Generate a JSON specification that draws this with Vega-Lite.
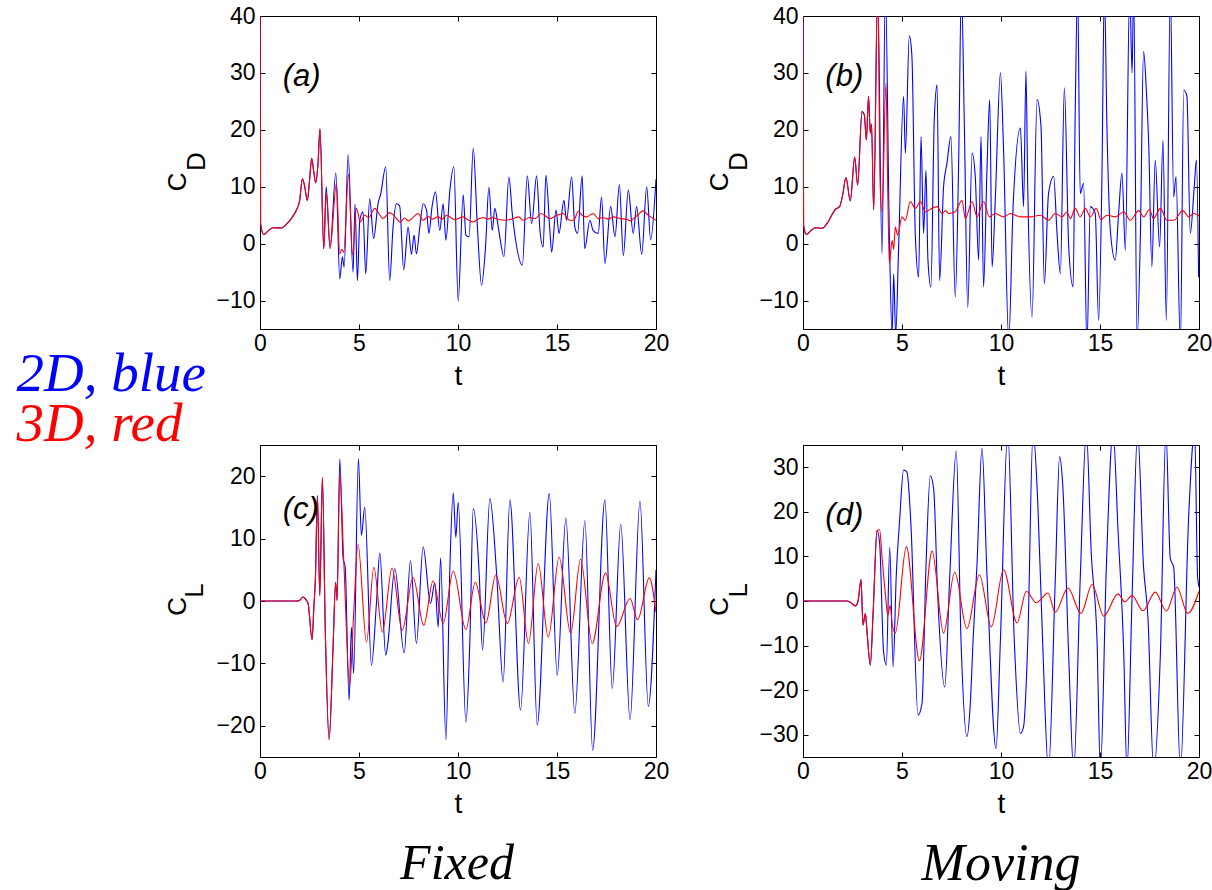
{
"$schema": "https://vega.github.io/schema/vega-lite/v6.json",
"background": "white",
"autosize": {"type": "pad"},
"padding": {"left": 15, "top": 4, "right": 5, "bottom": 5},
"config": {
  "view": {"stroke": "black", "strokeWidth": 1},
  "axis": {"domain": false, "grid": false, "tickColor": "black", "tickSize": -5, "tickWidth": 1, "labelPadding": 10, "labelFont": "Liberation Sans", "labelFontSize": 23, "labelColor": "black", "labelFlush": false, "labelOverlap": false, "titleFont": "Liberation Sans", "titleFontSize": 28, "titleFontWeight": "normal", "titleColor": "black", "titlePadding": 7},
  "axisX": {"labelPadding": 8},
  "axisY": {"labelPadding": 10}
},
"datasets": {
"a": [
{"s":"2D","t":0,"v":45},{"s":"2D","t":0.03,"v":3.5},{"s":"2D","t":0.19,"v":1.6},{"s":"2D","t":0.4,"v":2.2},{"s":"2D","t":0.66,"v":2.8},{"s":"2D","t":1.08,"v":2.75},{"s":"2D","t":1.3,"v":3.3},{"s":"2D","t":1.58,"v":4.4},{"s":"2D","t":1.84,"v":5.9},{"s":"2D","t":2.0,"v":7.5},{"s":"2D","t":2.14,"v":11.4},{"s":"2D","t":2.25,"v":10.2},{"s":"2D","t":2.39,"v":7.6},{"s":"2D","t":2.5,"v":11},{"s":"2D","t":2.61,"v":15},{"s":"2D","t":2.72,"v":12.5},{"s":"2D","t":2.81,"v":10.7},{"s":"2D","t":2.93,"v":14.1},{"s":"2D","t":3.03,"v":20.2},{"s":"2D","t":3.22,"v":-0.9},
{"s":"2D","t":3.34,"v":10},{"s":"2D","t":3.54,"v":-0.6},{"s":"2D","t":3.83,"v":12.4},{"s":"2D","t":4.03,"v":-6.2},{"s":"2D","t":4.16,"v":-2.3},{"s":"2D","t":4.25,"v":-4.1},{"s":"2D","t":4.45,"v":15.7},{"s":"2D","t":4.7,"v":-5},{"s":"2D","t":4.8,"v":6.9},{"s":"2D","t":4.92,"v":-6.5},{"s":"2D","t":5.04,"v":4.1},{"s":"2D","t":5.2,"v":5.6},{"s":"2D","t":5.34,"v":-5.3},{"s":"2D","t":5.54,"v":7.9},{"s":"2D","t":5.74,"v":0.9},{"s":"2D","t":5.96,"v":7.0},{"s":"2D","t":6.1,"v":8.8},{"s":"2D","t":6.35,"v":13.5},{"s":"2D","t":6.55,"v":-6.5},{"s":"2D","t":6.72,"v":2.9},{"s":"2D","t":6.89,"v":7.0},{"s":"2D","t":7.05,"v":6.7},{"s":"2D","t":7.26,"v":-4.6},{"s":"2D","t":7.48,"v":2.9},{"s":"2D","t":7.65,"v":-1.9},{"s":"2D","t":7.78,"v":1.5},{"s":"2D","t":7.9,"v":-1.8},{"s":"2D","t":8.07,"v":2.9},{"s":"2D","t":8.24,"v":7.0},{"s":"2D","t":8.41,"v":5.9},{"s":"2D","t":8.53,"v":1.8},{"s":"2D","t":8.69,"v":6.5},{"s":"2D","t":8.86,"v":9.1},{"s":"2D","t":9.08,"v":2.3},{"s":"2D","t":9.25,"v":7.0},{"s":"2D","t":9.39,"v":0.6},{"s":"2D","t":9.59,"v":9.4},{"s":"2D","t":9.79,"v":13.5},{"s":"2D","t":10.01,"v":-10.1},{"s":"2D","t":10.26,"v":8.6},{"s":"2D","t":10.4,"v":1.5},{"s":"2D","t":10.56,"v":1.2},{"s":"2D","t":10.77,"v":16.8},{"s":"2D","t":10.97,"v":3.6},{"s":"2D","t":11.19,"v":-7.3},{"s":"2D","t":11.39,"v":-0.6},{"s":"2D","t":11.56,"v":9.9},{"s":"2D","t":11.73,"v":2.3},{"s":"2D","t":11.86,"v":6.2},{"s":"2D","t":12.06,"v":2.3},{"s":"2D","t":12.32,"v":-2.3},{"s":"2D","t":12.57,"v":11.7},{"s":"2D","t":12.74,"v":5.3},{"s":"2D","t":12.91,"v":0.6},{"s":"2D","t":13.25,"v":-3.8},{"s":"2D","t":13.5,"v":11.9},{"s":"2D","t":13.72,"v":3.5},{"s":"2D","t":13.97,"v":11.9},{"s":"2D","t":14.14,"v":2.3},{"s":"2D","t":14.3,"v":-0.6},{"s":"2D","t":14.44,"v":12},{"s":"2D","t":14.64,"v":2.3},{"s":"2D","t":14.73,"v":-1.5},{"s":"2D","t":14.95,"v":5.9},{"s":"2D","t":15.1,"v":1.8},{"s":"2D","t":15.35,"v":7.6},{"s":"2D","t":15.48,"v":4.1},{"s":"2D","t":15.74,"v":11.7},{"s":"2D","t":15.9,"v":2.9},{"s":"2D","t":16.04,"v":1.8},{"s":"2D","t":16.27,"v":11.9},{"s":"2D","t":16.4,"v":-0.9},{"s":"2D","t":16.66,"v":4.1},{"s":"2D","t":16.83,"v":2.3},{"s":"2D","t":17.08,"v":1.8},{"s":"2D","t":17.25,"v":8.2},{"s":"2D","t":17.42,"v":-3.5},{"s":"2D","t":17.71,"v":6.5},{"s":"2D","t":17.93,"v":1.2},{"s":"2D","t":18.15,"v":10.4},{"s":"2D","t":18.35,"v":-2.1},{"s":"2D","t":18.6,"v":9.4},{"s":"2D","t":18.85,"v":1.8},{"s":"2D","t":19.02,"v":6.5},{"s":"2D","t":19.28,"v":-1.9},{"s":"2D","t":19.53,"v":10},{"s":"2D","t":19.73,"v":0.7},{"s":"2D","t":20,"v":11.3},
{"s":"3D","t":0,"v":45},{"s":"3D","t":0.03,"v":3.5},{"s":"3D","t":0.19,"v":1.6},{"s":"3D","t":0.4,"v":2.2},{"s":"3D","t":0.66,"v":2.8},{"s":"3D","t":1.08,"v":2.75},{"s":"3D","t":1.3,"v":3.3},{"s":"3D","t":1.58,"v":4.4},{"s":"3D","t":1.84,"v":5.9},{"s":"3D","t":2.0,"v":7.5},{"s":"3D","t":2.14,"v":11.4},{"s":"3D","t":2.25,"v":10.2},{"s":"3D","t":2.39,"v":7.6},{"s":"3D","t":2.5,"v":11},{"s":"3D","t":2.61,"v":15},{"s":"3D","t":2.72,"v":12.5},{"s":"3D","t":2.81,"v":10.7},{"s":"3D","t":2.93,"v":14.1},{"s":"3D","t":3.03,"v":20.2},{"s":"3D","t":3.22,"v":-0.9},
{"s":"3D","t":3.35,"v":8.8},{"s":"3D","t":3.54,"v":-0.9},{"s":"3D","t":3.86,"v":10.6},{"s":"3D","t":4.03,"v":-1.8},{"s":"3D","t":4.13,"v":-1.0},{"s":"3D","t":4.23,"v":-1.5},{"s":"3D","t":4.47,"v":12.2},{"s":"3D","t":4.67,"v":-2},{"s":"3D","t":4.87,"v":6.2},{"s":"3D","t":5.07,"v":3.8},{"s":"3D","t":5.29,"v":5.0},{"s":"3D","t":5.5,"v":4.6},{"s":"3D","t":5.8,"v":6.2},{"s":"3D","t":6.0,"v":5.3},{"s":"3D","t":6.2,"v":4.4},{"s":"3D","t":6.55,"v":5.45},{"s":"3D","t":6.8,"v":4.8},{"s":"3D","t":7.1,"v":3.8},{"s":"3D","t":7.3,"v":4.5},{"s":"3D","t":7.5,"v":4.0},{"s":"3D","t":7.75,"v":4.7},{"s":"3D","t":7.99,"v":5.3},{"s":"3D","t":8.24,"v":4.1},{"s":"3D","t":8.5,"v":4.8},{"s":"3D","t":8.7,"v":4.3},{"s":"3D","t":9.0,"v":4.7},{"s":"3D","t":9.2,"v":4.3},{"s":"3D","t":9.42,"v":5.0},{"s":"3D","t":9.84,"v":4.2},{"s":"3D","t":10.26,"v":4.7},{"s":"3D","t":10.5,"v":4.2},{"s":"3D","t":10.77,"v":3.8},{"s":"3D","t":11.0,"v":4.3},{"s":"3D","t":11.27,"v":4.6},{"s":"3D","t":11.5,"v":4.3},{"s":"3D","t":11.75,"v":4.6},{"s":"3D","t":12.0,"v":4.3},{"s":"3D","t":12.37,"v":4.1},{"s":"3D","t":12.79,"v":4.4},{"s":"3D","t":13.05,"v":4.7},{"s":"3D","t":13.3,"v":4.1},{"s":"3D","t":13.6,"v":4.6},{"s":"3D","t":13.9,"v":4.4},{"s":"3D","t":14.2,"v":5.3},{"s":"3D","t":14.64,"v":4.4},{"s":"3D","t":14.95,"v":4.9},{"s":"3D","t":15.3,"v":5.3},{"s":"3D","t":15.65,"v":4.1},{"s":"3D","t":15.85,"v":4.1},{"s":"3D","t":16.07,"v":5.7},{"s":"3D","t":16.3,"v":4.9},{"s":"3D","t":16.5,"v":4.7},{"s":"3D","t":16.83,"v":5.3},{"s":"3D","t":17.08,"v":4.4},{"s":"3D","t":17.3,"v":4.6},{"s":"3D","t":17.6,"v":4.3},{"s":"3D","t":17.85,"v":4.7},{"s":"3D","t":18.2,"v":4.4},{"s":"3D","t":18.5,"v":4.3},{"s":"3D","t":18.69,"v":4.0},{"s":"3D","t":19.0,"v":4.8},{"s":"3D","t":19.36,"v":5.75},{"s":"3D","t":19.6,"v":5.0},{"s":"3D","t":20,"v":4.1}
],
"b": [
{"s":"2D","t":0,"v":45},{"s":"2D","t":0.03,"v":3.2},{"s":"2D","t":0.17,"v":1.6},{"s":"2D","t":0.4,"v":2.3},{"s":"2D","t":0.62,"v":2.8},{"s":"2D","t":0.96,"v":2.7},{"s":"2D","t":1.21,"v":3.5},{"s":"2D","t":1.63,"v":6.0},{"s":"2D","t":1.85,"v":6.5},{"s":"2D","t":2.0,"v":8.5},{"s":"2D","t":2.17,"v":11.6},{"s":"2D","t":2.39,"v":7.5},{"s":"2D","t":2.61,"v":15.2},{"s":"2D","t":2.76,"v":10.3},{"s":"2D","t":2.98,"v":23.2},{"s":"2D","t":3.1,"v":22.6},{"s":"2D","t":3.2,"v":18.2},{"s":"2D","t":3.31,"v":25.9},{"s":"2D","t":3.4,"v":19.4},{"s":"2D","t":3.46,"v":21},{"s":"2D","t":3.57,"v":5.9},{"s":"2D","t":3.77,"v":45},
{"s":"2D","t":3.99,"v":-1.8},{"s":"2D","t":4.16,"v":45},{"s":"2D","t":4.36,"v":1.8},{"s":"2D","t":4.5,"v":-16},{"s":"2D","t":4.58,"v":-5.3},{"s":"2D","t":4.68,"v":-16},{"s":"2D","t":4.83,"v":-0.6},{"s":"2D","t":5.08,"v":25.9},{"s":"2D","t":5.17,"v":15.9},{"s":"2D","t":5.37,"v":36.5},{"s":"2D","t":5.5,"v":33},{"s":"2D","t":5.67,"v":1.8},{"s":"2D","t":5.84,"v":-5.9},{"s":"2D","t":5.96,"v":18.8},{"s":"2D","t":6.09,"v":1.8},{"s":"2D","t":6.21,"v":12.9},{"s":"2D","t":6.31,"v":-2.9},{"s":"2D","t":6.46,"v":-7.6},{"s":"2D","t":6.63,"v":21.8},{"s":"2D","t":6.77,"v":27.9},{"s":"2D","t":6.9,"v":-6.5},{"s":"2D","t":7.1,"v":10},{"s":"2D","t":7.27,"v":14.1},{"s":"2D","t":7.47,"v":18.8},{"s":"2D","t":7.69,"v":-9.4},{"s":"2D","t":7.86,"v":14.1},{"s":"2D","t":8.0,"v":45},{"s":"2D","t":8.15,"v":20.6},{"s":"2D","t":8.32,"v":-11.2},{"s":"2D","t":8.54,"v":15.9},{"s":"2D","t":8.7,"v":11.8},{"s":"2D","t":8.87,"v":-2.9},{"s":"2D","t":8.99,"v":18.8},{"s":"2D","t":9.12,"v":-7.6},{"s":"2D","t":9.29,"v":12.9},{"s":"2D","t":9.43,"v":25.3},{"s":"2D","t":9.55,"v":-4.1},{"s":"2D","t":9.71,"v":7.6},{"s":"2D","t":9.97,"v":30},{"s":"2D","t":10.13,"v":16.5},{"s":"2D","t":10.39,"v":-17},{"s":"2D","t":10.61,"v":6.5},{"s":"2D","t":10.98,"v":20.3},{"s":"2D","t":11.14,"v":6.5},{"s":"2D","t":11.26,"v":30.3},{"s":"2D","t":11.35,"v":10},{"s":"2D","t":11.57,"v":-12.9},{"s":"2D","t":11.82,"v":25.3},{"s":"2D","t":12.02,"v":20.6},{"s":"2D","t":12.19,"v":-7.1},{"s":"2D","t":12.4,"v":8.8},{"s":"2D","t":12.66,"v":11.8},{"s":"2D","t":12.83,"v":1.8},{"s":"2D","t":13.0,"v":-5.3},{"s":"2D","t":13.2,"v":27.4},{"s":"2D","t":13.42,"v":-0.6},{"s":"2D","t":13.64,"v":-7.6},{"s":"2D","t":13.75,"v":23.5},{"s":"2D","t":13.87,"v":45},{"s":"2D","t":14.0,"v":8.8},{"s":"2D","t":14.17,"v":10.6},{"s":"2D","t":14.34,"v":-18},{"s":"2D","t":14.51,"v":6.5},{"s":"2D","t":14.76,"v":5.3},{"s":"2D","t":14.93,"v":-13.5},{"s":"2D","t":15.1,"v":12.4},{"s":"2D","t":15.22,"v":45},{"s":"2D","t":15.35,"v":20.6},{"s":"2D","t":15.52,"v":2.4},{"s":"2D","t":15.77,"v":-2.9},{"s":"2D","t":15.94,"v":5.3},{"s":"2D","t":16.11,"v":12.4},{"s":"2D","t":16.28,"v":-1.2},{"s":"2D","t":16.5,"v":45},{"s":"2D","t":16.62,"v":30},{"s":"2D","t":16.7,"v":45},{"s":"2D","t":16.87,"v":-17},{"s":"2D","t":17.04,"v":1.8},{"s":"2D","t":17.2,"v":33.8},{"s":"2D","t":17.34,"v":27},{"s":"2D","t":17.46,"v":17.6},{"s":"2D","t":17.62,"v":-4.1},{"s":"2D","t":17.79,"v":14.7},{"s":"2D","t":18.01,"v":-0.6},{"s":"2D","t":18.18,"v":18.2},{"s":"2D","t":18.35,"v":-13.5},{"s":"2D","t":18.55,"v":45},{"s":"2D","t":18.72,"v":8.2},{"s":"2D","t":18.84,"v":11.8},{"s":"2D","t":19.06,"v":-18},{"s":"2D","t":19.23,"v":27},{"s":"2D","t":19.39,"v":25.9},{"s":"2D","t":19.56,"v":1.8},{"s":"2D","t":19.76,"v":10},{"s":"2D","t":19.87,"v":14.7},{"s":"2D","t":19.98,"v":-5.9},
{"s":"3D","t":0,"v":45},{"s":"3D","t":0.03,"v":3.2},{"s":"3D","t":0.17,"v":1.6},{"s":"3D","t":0.4,"v":2.3},{"s":"3D","t":0.62,"v":2.8},{"s":"3D","t":0.96,"v":2.7},{"s":"3D","t":1.21,"v":3.5},{"s":"3D","t":1.63,"v":6.0},{"s":"3D","t":1.85,"v":6.5},{"s":"3D","t":2.0,"v":8.5},{"s":"3D","t":2.17,"v":11.6},{"s":"3D","t":2.39,"v":7.5},{"s":"3D","t":2.61,"v":15.2},{"s":"3D","t":2.76,"v":10.3},{"s":"3D","t":2.98,"v":23.2},{"s":"3D","t":3.1,"v":22.6},{"s":"3D","t":3.2,"v":18.2},{"s":"3D","t":3.31,"v":25.9},{"s":"3D","t":3.4,"v":19.4},{"s":"3D","t":3.46,"v":21},{"s":"3D","t":3.57,"v":5.9},{"s":"3D","t":3.77,"v":45},
{"s":"3D","t":3.9,"v":10},{"s":"3D","t":3.99,"v":5.6},{"s":"3D","t":4.19,"v":28.2},{"s":"3D","t":4.29,"v":7.6},{"s":"3D","t":4.36,"v":-3.5},{"s":"3D","t":4.5,"v":0.6},{"s":"3D","t":4.58,"v":-1},{"s":"3D","t":4.66,"v":2.9},{"s":"3D","t":4.78,"v":1.5},{"s":"3D","t":5.0,"v":4.7},{"s":"3D","t":5.17,"v":4.1},{"s":"3D","t":5.42,"v":7.4},{"s":"3D","t":5.67,"v":6.2},{"s":"3D","t":5.93,"v":7.4},{"s":"3D","t":6.18,"v":5.6},{"s":"3D","t":6.52,"v":6.2},{"s":"3D","t":6.77,"v":6.5},{"s":"3D","t":7.02,"v":5.3},{"s":"3D","t":7.2,"v":5.8},{"s":"3D","t":7.36,"v":5.3},{"s":"3D","t":7.69,"v":5.6},{"s":"3D","t":8.03,"v":7.6},{"s":"3D","t":8.2,"v":4.4},{"s":"3D","t":8.54,"v":7.4},{"s":"3D","t":8.79,"v":4.7},{"s":"3D","t":9.12,"v":7.4},{"s":"3D","t":9.41,"v":4.7},{"s":"3D","t":9.71,"v":5.3},{"s":"3D","t":10.13,"v":4.7},{"s":"3D","t":10.47,"v":5.3},{"s":"3D","t":10.98,"v":4.7},{"s":"3D","t":11.48,"v":4.7},{"s":"3D","t":11.99,"v":5.0},{"s":"3D","t":12.4,"v":4.1},{"s":"3D","t":12.74,"v":5.3},{"s":"3D","t":13.08,"v":4.7},{"s":"3D","t":13.33,"v":5.6},{"s":"3D","t":13.5,"v":4.4},{"s":"3D","t":13.75,"v":6.2},{"s":"3D","t":14.0,"v":4.7},{"s":"3D","t":14.26,"v":6.2},{"s":"3D","t":14.51,"v":4.7},{"s":"3D","t":14.81,"v":6.2},{"s":"3D","t":15.05,"v":4.2},{"s":"3D","t":15.35,"v":5.0},{"s":"3D","t":15.77,"v":4.7},{"s":"3D","t":16.2,"v":5.6},{"s":"3D","t":16.53,"v":4.1},{"s":"3D","t":16.95,"v":5.8},{"s":"3D","t":17.2,"v":4.7},{"s":"3D","t":17.5,"v":6.0},{"s":"3D","t":17.7,"v":4.4},{"s":"3D","t":18.05,"v":6.2},{"s":"3D","t":18.38,"v":4.1},{"s":"3D","t":18.72,"v":4.1},{"s":"3D","t":19.19,"v":5.8},{"s":"3D","t":19.48,"v":4.7},{"s":"3D","t":19.73,"v":5.3},{"s":"3D","t":20,"v":4.9}
],
"c": [
{"s":"2D","t":0,"v":0},{"s":"2D","t":1.84,"v":0},{"s":"2D","t":2.0,"v":0.1},{"s":"2D","t":2.17,"v":0.64},{"s":"2D","t":2.3,"v":0.3},{"s":"2D","t":2.43,"v":-0.4},{"s":"2D","t":2.63,"v":-6.2},{"s":"2D","t":2.72,"v":-1},{"s":"2D","t":2.8,"v":3.8},{"s":"2D","t":2.9,"v":16.9},{"s":"2D","t":3.02,"v":0.9},{"s":"2D","t":3.15,"v":19.8},{"s":"2D","t":3.3,"v":-5},{"s":"2D","t":3.49,"v":-22.2},{"s":"2D","t":3.69,"v":-7.4},{"s":"2D","t":3.82,"v":3.0},{"s":"2D","t":3.89,"v":0.1},
{"s":"2D","t":4.03,"v":22.8},{"s":"2D","t":4.2,"v":6.8},{"s":"2D","t":4.3,"v":5.5},{"s":"2D","t":4.5,"v":-15.9},{"s":"2D","t":4.62,"v":-4.2},{"s":"2D","t":4.73,"v":-11.6},{"s":"2D","t":4.97,"v":22.8},{"s":"2D","t":5.12,"v":10.5},{"s":"2D","t":5.29,"v":15.0},{"s":"2D","t":5.63,"v":-10.3},{"s":"2D","t":5.88,"v":-0.4},{"s":"2D","t":6.05,"v":7.7},{"s":"2D","t":6.35,"v":-8.7},{"s":"2D","t":6.45,"v":-7},{"s":"2D","t":6.81,"v":5.2},{"s":"2D","t":7.28,"v":-8.3},{"s":"2D","t":7.6,"v":6.5},{"s":"2D","t":7.9,"v":-6.8},{"s":"2D","t":8.24,"v":8.7},{"s":"2D","t":8.61,"v":-0.4},{"s":"2D","t":8.83,"v":2.9},{"s":"2D","t":9.0,"v":-4.2},{"s":"2D","t":9.12,"v":6.9},{"s":"2D","t":9.39,"v":-22.2},{"s":"2D","t":9.59,"v":5.4},{"s":"2D","t":9.76,"v":17.3},{"s":"2D","t":9.89,"v":10.2},{"s":"2D","t":10.01,"v":15.8},{"s":"2D","t":10.4,"v":-19.4},{"s":"2D","t":10.6,"v":-6.3},{"s":"2D","t":10.77,"v":14.8},{"s":"2D","t":11.07,"v":4.4},{"s":"2D","t":11.24,"v":-7.9},{"s":"2D","t":11.61,"v":16.4},{"s":"2D","t":11.95,"v":4.4},{"s":"2D","t":12.28,"v":-13.0},{"s":"2D","t":12.62,"v":16.2},{"s":"2D","t":13.16,"v":-17.5},{"s":"2D","t":13.63,"v":14.2},{"s":"2D","t":14.0,"v":-19.9},{"s":"2D","t":14.61,"v":17.2},{"s":"2D","t":15.01,"v":-11.9},{"s":"2D","t":15.45,"v":13.3},{"s":"2D","t":15.9,"v":-18.0},{"s":"2D","t":16.41,"v":12.9},{"s":"2D","t":16.8,"v":-23.9},{"s":"2D","t":17.42,"v":16.2},{"s":"2D","t":17.79,"v":-14.0},{"s":"2D","t":18.22,"v":12.3},{"s":"2D","t":18.69,"v":-19.0},{"s":"2D","t":19.19,"v":16.0},{"s":"2D","t":19.61,"v":-16.9},{"s":"2D","t":20,"v":5.0},
{"s":"3D","t":0,"v":0},{"s":"3D","t":1.84,"v":0},{"s":"3D","t":2.0,"v":0.1},{"s":"3D","t":2.17,"v":0.64},{"s":"3D","t":2.3,"v":0.3},{"s":"3D","t":2.43,"v":-0.4},{"s":"3D","t":2.63,"v":-6.2},{"s":"3D","t":2.72,"v":-1},{"s":"3D","t":2.8,"v":3.8},{"s":"3D","t":2.9,"v":16.9},{"s":"3D","t":3.02,"v":0.9},{"s":"3D","t":3.15,"v":19.8},{"s":"3D","t":3.3,"v":-5},{"s":"3D","t":3.49,"v":-22.2},{"s":"3D","t":3.69,"v":-7.4},{"s":"3D","t":3.82,"v":3.0},{"s":"3D","t":3.89,"v":0.1},
{"s":"3D","t":4.03,"v":20.4},{"s":"3D","t":4.23,"v":6.5},{"s":"3D","t":4.53,"v":-13.5},{"s":"3D","t":4.73,"v":-2.0},{"s":"3D","t":4.95,"v":9.1},{"s":"3D","t":5.38,"v":-6.6},{"s":"3D","t":5.75,"v":5.4},{"s":"3D","t":6.18,"v":-5.0},{"s":"3D","t":6.67,"v":5.3},{"s":"3D","t":7.18,"v":-4.7},{"s":"3D","t":7.73,"v":3.8},{"s":"3D","t":8.27,"v":-3.9},{"s":"3D","t":8.74,"v":3.2},{"s":"3D","t":9.25,"v":-3.6},{"s":"3D","t":9.76,"v":4.8},{"s":"3D","t":10.4,"v":-4.6},{"s":"3D","t":10.87,"v":3.0},{"s":"3D","t":11.41,"v":-3.5},{"s":"3D","t":11.91,"v":4.2},{"s":"3D","t":12.49,"v":-3.6},{"s":"3D","t":13.09,"v":3.8},{"s":"3D","t":13.56,"v":-6.8},{"s":"3D","t":14.05,"v":6.0},{"s":"3D","t":14.56,"v":-5.8},{"s":"3D","t":15.11,"v":7.0},{"s":"3D","t":15.69,"v":-5.2},{"s":"3D","t":16.19,"v":6.7},{"s":"3D","t":16.78,"v":-6.8},{"s":"3D","t":17.45,"v":4.5},{"s":"3D","t":18.01,"v":-4.1},{"s":"3D","t":18.69,"v":0.4},{"s":"3D","t":19.07,"v":-3.0},{"s":"3D","t":19.66,"v":3.7},{"s":"3D","t":20,"v":-1.8}
],
"d": [
{"s":"2D","t":0,"v":0},{"s":"2D","t":2.22,"v":0},{"s":"2D","t":2.4,"v":-0.3},{"s":"2D","t":2.64,"v":-1.1},{"s":"2D","t":2.78,"v":0},{"s":"2D","t":2.93,"v":4.8},{"s":"2D","t":3.03,"v":-5.4},{"s":"2D","t":3.15,"v":-2.8},{"s":"2D","t":3.23,"v":-6.7},{"s":"2D","t":3.4,"v":-14.4},{"s":"2D","t":3.54,"v":-2.8},{"s":"2D","t":3.74,"v":15.8},
{"s":"2D","t":3.87,"v":13},{"s":"2D","t":4.07,"v":-11.4},{"s":"2D","t":4.21,"v":-14.4},{"s":"2D","t":4.38,"v":12.1},{"s":"2D","t":4.55,"v":-14.8},{"s":"2D","t":4.71,"v":5.7},{"s":"2D","t":4.88,"v":18.1},{"s":"2D","t":5.08,"v":29.4},{"s":"2D","t":5.25,"v":28.9},{"s":"2D","t":5.45,"v":17.3},{"s":"2D","t":5.81,"v":-25.6},{"s":"2D","t":6.01,"v":-23},{"s":"2D","t":6.21,"v":7.6},{"s":"2D","t":6.43,"v":28.1},{"s":"2D","t":6.6,"v":25.1},{"s":"2D","t":6.8,"v":1.6},{"s":"2D","t":7.16,"v":-19.3},{"s":"2D","t":7.41,"v":5.4},{"s":"2D","t":7.74,"v":33.7},{"s":"2D","t":7.98,"v":-8.8},{"s":"2D","t":8.28,"v":-30.4},{"s":"2D","t":8.45,"v":-23},{"s":"2D","t":8.59,"v":-8.8},{"s":"2D","t":8.79,"v":8.4},{"s":"2D","t":9.04,"v":34.3},{"s":"2D","t":9.29,"v":6.1},{"s":"2D","t":9.75,"v":-33.1},{"s":"2D","t":9.97,"v":-8.8},{"s":"2D","t":10.34,"v":38},{"s":"2D","t":10.67,"v":-8.8},{"s":"2D","t":10.98,"v":-29.7},{"s":"2D","t":11.14,"v":-28.2},{"s":"2D","t":11.35,"v":-9.6},{"s":"2D","t":11.62,"v":38},{"s":"2D","t":11.85,"v":22.9},{"s":"2D","t":12.1,"v":-8.8},{"s":"2D","t":12.4,"v":-38},{"s":"2D","t":12.74,"v":4.6},{"s":"2D","t":12.96,"v":32.4},{"s":"2D","t":13.13,"v":25.1},{"s":"2D","t":13.42,"v":-12.5},{"s":"2D","t":13.67,"v":-38},{"s":"2D","t":14.01,"v":6.1},{"s":"2D","t":14.31,"v":38},{"s":"2D","t":14.56,"v":10.6},{"s":"2D","t":14.85,"v":-8.8},{"s":"2D","t":15.02,"v":-38},{"s":"2D","t":15.32,"v":7.6},{"s":"2D","t":15.66,"v":38},{"s":"2D","t":15.91,"v":15.8},{"s":"2D","t":16.2,"v":-11.8},{"s":"2D","t":16.36,"v":-38},{"s":"2D","t":16.62,"v":0.9},{"s":"2D","t":16.9,"v":38},{"s":"2D","t":17.2,"v":7.6},{"s":"2D","t":17.42,"v":-3.6},{"s":"2D","t":17.71,"v":-38},{"s":"2D","t":18.05,"v":-11.8},{"s":"2D","t":18.33,"v":38},{"s":"2D","t":18.55,"v":9.5},{"s":"2D","t":18.72,"v":7.6},{"s":"2D","t":19.06,"v":-38},{"s":"2D","t":19.48,"v":19.2},{"s":"2D","t":19.78,"v":38},{"s":"2D","t":19.93,"v":5.4},{"s":"2D","t":20,"v":3.1},
{"s":"3D","t":0,"v":0},{"s":"3D","t":2.22,"v":0},{"s":"3D","t":2.4,"v":-0.3},{"s":"3D","t":2.64,"v":-1.1},{"s":"3D","t":2.78,"v":0},{"s":"3D","t":2.93,"v":4.8},{"s":"3D","t":3.03,"v":-5.4},{"s":"3D","t":3.15,"v":-2.8},{"s":"3D","t":3.23,"v":-6.7},{"s":"3D","t":3.4,"v":-14.4},{"s":"3D","t":3.54,"v":-2.8},{"s":"3D","t":3.74,"v":15.8},
{"s":"3D","t":3.87,"v":16},{"s":"3D","t":3.99,"v":9.9},{"s":"3D","t":4.16,"v":1.6},{"s":"3D","t":4.28,"v":-3.2},{"s":"3D","t":4.4,"v":-1},{"s":"3D","t":4.5,"v":-5},{"s":"3D","t":4.66,"v":-7.2},{"s":"3D","t":5.22,"v":12.2},{"s":"3D","t":5.88,"v":-13.4},{"s":"3D","t":6.52,"v":11.2},{"s":"3D","t":7.1,"v":-7.2},{"s":"3D","t":7.66,"v":6.5},{"s":"3D","t":8.28,"v":-6.2},{"s":"3D","t":8.91,"v":5.9},{"s":"3D","t":9.51,"v":-5.8},{"s":"3D","t":10.13,"v":7.0},{"s":"3D","t":10.81,"v":-4.9},{"s":"3D","t":11.28,"v":2.2},{"s":"3D","t":11.78,"v":-0.4},{"s":"3D","t":12.37,"v":1.8},{"s":"3D","t":12.74,"v":-2.5},{"s":"3D","t":13.38,"v":2.9},{"s":"3D","t":14.04,"v":-2.8},{"s":"3D","t":14.6,"v":3.7},{"s":"3D","t":15.19,"v":-3.4},{"s":"3D","t":15.91,"v":1.6},{"s":"3D","t":16.25,"v":-0.2},{"s":"3D","t":16.62,"v":1.2},{"s":"3D","t":17.17,"v":-2.2},{"s":"3D","t":17.79,"v":2.0},{"s":"3D","t":18.35,"v":-2.3},{"s":"3D","t":18.89,"v":3.1},{"s":"3D","t":19.43,"v":-2.8},{"s":"3D","t":20,"v":2.2}
]
},
"concat": [
{
 "width": 396, "height": 313,
 "resolve": {"axis": {"x": "independent", "y": "independent"}},
 "layer": [
  {"data": {"name": "a"},
   "mark": {"type": "line", "interpolate": "monotone", "clip": true, "strokeWidth": 1.1},
   "encoding": {
    "x": {"field": "t", "type": "quantitative", "scale": {"domain": [0, 20], "nice": false, "zero": false}, "axis": {"values": [0, 5, 10, 15, 20], "title": "t"}},
    "y": {"field": "v", "type": "quantitative", "scale": {"domain": [-15, 40], "nice": false, "zero": false}, "axis": {"values": [-10, 0, 10, 20, 30, 40], "title": null}},
    "color": {"field": "s", "type": "nominal", "scale": {"domain": ["2D", "3D"], "range": ["#0000ff", "#ff0000"]}, "legend": null}
   }},
  {"data": {"values": [{"t": 1.15, "v": 27.7, "label": "(a)"}]},
   "mark": {"type": "text", "font": "Liberation Sans", "fontStyle": "italic", "fontSize": 31, "align": "left", "baseline": "alphabetic", "color": "black"},
   "encoding": {
    "x": {"field": "t", "type": "quantitative", "scale": {"domain": [0, 20], "nice": false, "zero": false}, "axis": {"orient": "top", "labels": false, "title": null, "values": [0, 5, 10, 15, 20]}},
    "y": {"field": "v", "type": "quantitative", "scale": {"domain": [-15, 40], "nice": false, "zero": false}, "axis": {"orient": "right", "labels": false, "title": null, "values": [-10, 0, 10, 20, 30, 40]}},
    "text": {"field": "label"}
   }},
  {"data": {"values": [{"t": -3.75, "v": 10.86, "label": "C"}, {"t": -2.79, "v": 14.4, "label": "D"}]},
   "mark": {"type": "text", "font": "Liberation Sans", "fontSize": 26, "angle": 270, "align": "center", "baseline": "alphabetic", "color": "black"},
   "encoding": {
    "x": {"field": "t", "type": "quantitative", "scale": {"domain": [0, 20], "nice": false, "zero": false}, "axis": null},
    "y": {"field": "v", "type": "quantitative", "scale": {"domain": [-15, 40], "nice": false, "zero": false}, "axis": null},
    "text": {"field": "label"}
   }}
 ]
},
{
 "width": 396, "height": 313,
 "resolve": {"axis": {"x": "independent", "y": "independent"}},
 "layer": [
  {"data": {"name": "b"},
   "mark": {"type": "line", "interpolate": "monotone", "clip": true, "strokeWidth": 1.1},
   "encoding": {
    "x": {"field": "t", "type": "quantitative", "scale": {"domain": [0, 20], "nice": false, "zero": false}, "axis": {"values": [0, 5, 10, 15, 20], "title": "t"}},
    "y": {"field": "v", "type": "quantitative", "scale": {"domain": [-15, 40], "nice": false, "zero": false}, "axis": {"values": [-10, 0, 10, 20, 30, 40], "title": null}},
    "color": {"field": "s", "type": "nominal", "scale": {"domain": ["2D", "3D"], "range": ["#0000ff", "#ff0000"]}, "legend": null}
   }},
  {"data": {"values": [{"t": 1.13, "v": 27.7, "label": "(b)"}]},
   "mark": {"type": "text", "font": "Liberation Sans", "fontStyle": "italic", "fontSize": 31, "align": "left", "baseline": "alphabetic", "color": "black"},
   "encoding": {
    "x": {"field": "t", "type": "quantitative", "scale": {"domain": [0, 20], "nice": false, "zero": false}, "axis": {"orient": "top", "labels": false, "title": null, "values": [0, 5, 10, 15, 20]}},
    "y": {"field": "v", "type": "quantitative", "scale": {"domain": [-15, 40], "nice": false, "zero": false}, "axis": {"orient": "right", "labels": false, "title": null, "values": [-10, 0, 10, 20, 30, 40]}},
    "text": {"field": "label"}
   }},
  {"data": {"values": [{"t": -3.77, "v": 10.86, "label": "C"}, {"t": -2.82, "v": 14.4, "label": "D"}]},
   "mark": {"type": "text", "font": "Liberation Sans", "fontSize": 26, "angle": 270, "align": "center", "baseline": "alphabetic", "color": "black"},
   "encoding": {
    "x": {"field": "t", "type": "quantitative", "scale": {"domain": [0, 20], "nice": false, "zero": false}, "axis": null},
    "y": {"field": "v", "type": "quantitative", "scale": {"domain": [-15, 40], "nice": false, "zero": false}, "axis": null},
    "text": {"field": "label"}
   }}
 ]
},
{
 "width": 396, "height": 312,
 "resolve": {"axis": {"x": "independent", "y": "independent"}},
 "layer": [
  {"data": {"name": "c"},
   "mark": {"type": "line", "interpolate": "monotone", "clip": true, "strokeWidth": 1.1},
   "encoding": {
    "x": {"field": "t", "type": "quantitative", "scale": {"domain": [0, 20], "nice": false, "zero": false}, "axis": {"values": [0, 5, 10, 15, 20], "title": "t"}},
    "y": {"field": "v", "type": "quantitative", "scale": {"domain": [-25, 25], "nice": false, "zero": false}, "axis": {"values": [-20, -10, 0, 10, 20], "title": null}},
    "color": {"field": "s", "type": "nominal", "scale": {"domain": ["2D", "3D"], "range": ["#0000ff", "#ff0000"]}, "legend": null}
   }},
  {"data": {"values": [{"t": 1.15, "v": 13.15, "label": "(c)"}]},
   "mark": {"type": "text", "font": "Liberation Sans", "fontStyle": "italic", "fontSize": 31, "align": "left", "baseline": "alphabetic", "color": "black"},
   "encoding": {
    "x": {"field": "t", "type": "quantitative", "scale": {"domain": [0, 20], "nice": false, "zero": false}, "axis": {"orient": "top", "labels": false, "title": null, "values": [0, 5, 10, 15, 20]}},
    "y": {"field": "v", "type": "quantitative", "scale": {"domain": [-25, 25], "nice": false, "zero": false}, "axis": {"orient": "right", "labels": false, "title": null, "values": [-20, -10, 0, 10, 20]}},
    "text": {"field": "label"}
   }},
  {"data": {"values": [{"t": -3.73, "v": -0.85, "label": "C"}, {"t": -2.87, "v": 1.7, "label": "L"}]},
   "mark": {"type": "text", "font": "Liberation Sans", "fontSize": 26, "angle": 270, "align": "center", "baseline": "alphabetic", "color": "black"},
   "encoding": {
    "x": {"field": "t", "type": "quantitative", "scale": {"domain": [0, 20], "nice": false, "zero": false}, "axis": null},
    "y": {"field": "v", "type": "quantitative", "scale": {"domain": [-25, 25], "nice": false, "zero": false}, "axis": null},
    "text": {"field": "label"}
   }},
  {"data": {"values": [{"t": -12.3, "v": 33.7, "label": "2D, blue"}]},
   "mark": {"type": "text", "font": "Liberation Serif", "fontStyle": "italic", "fontSize": 55, "align": "left", "baseline": "alphabetic", "color": "#0000ff"},
   "encoding": {
    "x": {"field": "t", "type": "quantitative", "scale": {"domain": [0, 20], "nice": false, "zero": false}, "axis": null},
    "y": {"field": "v", "type": "quantitative", "scale": {"domain": [-25, 25], "nice": false, "zero": false}, "axis": null},
    "text": {"field": "label"}
   }},
  {"data": {"values": [{"t": -12.3, "v": 25.6, "label": "3D, red"}]},
   "mark": {"type": "text", "font": "Liberation Serif", "fontStyle": "italic", "fontSize": 55, "align": "left", "baseline": "alphabetic", "color": "#ff0000"},
   "encoding": {
    "x": {"field": "t", "type": "quantitative", "scale": {"domain": [0, 20], "nice": false, "zero": false}, "axis": null},
    "y": {"field": "v", "type": "quantitative", "scale": {"domain": [-25, 25], "nice": false, "zero": false}, "axis": null},
    "text": {"field": "label"}
   }},
  {"data": {"values": [{"t": 9.95, "v": -44.5, "label": "Fixed"}]},
   "mark": {"type": "text", "font": "Liberation Serif", "fontStyle": "italic", "fontSize": 50, "align": "center", "baseline": "alphabetic", "color": "black"},
   "encoding": {
    "x": {"field": "t", "type": "quantitative", "scale": {"domain": [0, 20], "nice": false, "zero": false}, "axis": null},
    "y": {"field": "v", "type": "quantitative", "scale": {"domain": [-25, 25], "nice": false, "zero": false}, "axis": null},
    "text": {"field": "label"}
   }}
 ]
},
{
 "width": 396, "height": 312,
 "resolve": {"axis": {"x": "independent", "y": "independent"}},
 "layer": [
  {"data": {"name": "d"},
   "mark": {"type": "line", "interpolate": "monotone", "clip": true, "strokeWidth": 1.1},
   "encoding": {
    "x": {"field": "t", "type": "quantitative", "scale": {"domain": [0, 20], "nice": false, "zero": false}, "axis": {"values": [0, 5, 10, 15, 20], "title": "t"}},
    "y": {"field": "v", "type": "quantitative", "scale": {"domain": [-35, 35], "nice": false, "zero": false}, "axis": {"values": [-30, -20, -10, 0, 10, 20, 30], "title": null}},
    "color": {"field": "s", "type": "nominal", "scale": {"domain": ["2D", "3D"], "range": ["#0000ff", "#ff0000"]}, "legend": null}
   }},
  {"data": {"values": [{"t": 1.13, "v": 17.0, "label": "(d)"}]},
   "mark": {"type": "text", "font": "Liberation Sans", "fontStyle": "italic", "fontSize": 31, "align": "left", "baseline": "alphabetic", "color": "black"},
   "encoding": {
    "x": {"field": "t", "type": "quantitative", "scale": {"domain": [0, 20], "nice": false, "zero": false}, "axis": {"orient": "top", "labels": false, "title": null, "values": [0, 5, 10, 15, 20]}},
    "y": {"field": "v", "type": "quantitative", "scale": {"domain": [-35, 35], "nice": false, "zero": false}, "axis": {"orient": "right", "labels": false, "title": null, "values": [-30, -20, -10, 0, 10, 20, 30]}},
    "text": {"field": "label"}
   }},
  {"data": {"values": [{"t": -3.77, "v": -1.2, "label": "C"}, {"t": -2.82, "v": 2.4, "label": "L"}]},
   "mark": {"type": "text", "font": "Liberation Sans", "fontSize": 26, "angle": 270, "align": "center", "baseline": "alphabetic", "color": "black"},
   "encoding": {
    "x": {"field": "t", "type": "quantitative", "scale": {"domain": [0, 20], "nice": false, "zero": false}, "axis": null},
    "y": {"field": "v", "type": "quantitative", "scale": {"domain": [-35, 35], "nice": false, "zero": false}, "axis": null},
    "text": {"field": "label"}
   }},
  {"data": {"values": [{"t": 10.0, "v": -62.5, "label": "Moving"}]},
   "mark": {"type": "text", "font": "Liberation Serif", "fontStyle": "italic", "fontSize": 52, "align": "center", "baseline": "alphabetic", "color": "black"},
   "encoding": {
    "x": {"field": "t", "type": "quantitative", "scale": {"domain": [0, 20], "nice": false, "zero": false}, "axis": null},
    "y": {"field": "v", "type": "quantitative", "scale": {"domain": [-35, 35], "nice": false, "zero": false}, "axis": null},
    "text": {"field": "label"}
   }}
 ]
}
],
"columns": 2,
"spacing": {"row": 116, "column": 147},
"bounds": "flush"
}
